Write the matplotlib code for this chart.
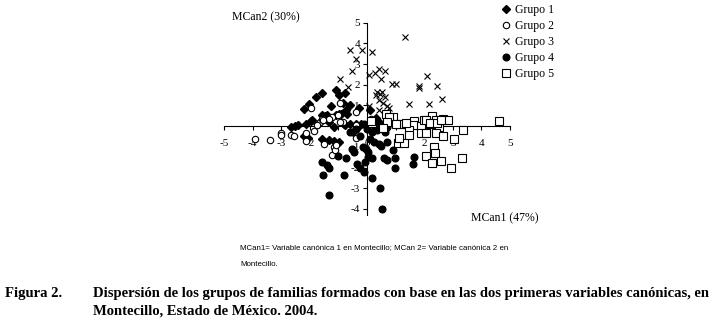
import matplotlib
matplotlib.use("Agg")
import matplotlib.pyplot as plt

# ---------------- data ----------------
g1_x = [-2.19, -2.02, -1.78, -1.58, -1.08, -0.97, -0.78, -1.25, -0.85, -0.75, -0.70, -0.28,
        -1.93, -1.58, -1.48, -1.10, -2.66, -2.52, -2.14, -2.19, -2.07, -1.34, -1.17, -0.99,
        -1.58, -1.34, -1.17, -0.99, -0.81, -2.40, -1.97, -0.90, -0.76, -0.58, -0.40, -0.22,
        0.10, 0.31, 0.07, 0.45, -1.70, -0.50, -0.30, 0.20, -1.40, -0.60]
g1_y = [0.85, 1.05, 1.42, 1.58, 1.77, 1.50, 1.61, 0.97, 1.10, 0.77, 0.58, 0.88,
        0.32, 0.53, 0.48, 0.53, -0.03, 0.01, 0.13, -0.48, -0.55, 0.21, -0.03, 0.58,
        -0.64, -0.68, -0.71, -0.76, 0.13, 0.05, 0.25, 0.61, 0.05, 0.13, 0.13, 0.13,
        0.77, 0.42, 0.13, 0.16, 0.10, -0.30, -0.05, 0.05, 0.55, 1.00]

g2_x = [-3.91, -3.38, -2.99, -2.99, -2.66, -2.14, -2.14, -1.85, -1.52, -1.23, -1.17, -1.12,
        -1.64, -1.58, -1.23, -0.85, -0.40, -0.40, -0.40, -1.95, -1.34, -1.55, -1.00, -0.93,
        -1.75, -0.93, -2.55, -1.10, 0.13]
g2_y = [-0.64, -0.68, -0.32, -0.43, -0.43, -0.32, -0.71, -0.23, -0.84, -1.40, -1.00, -1.13,
        0.20, 0.37, 0.45, 0.20, 0.05, -0.55, 0.70, 0.90, 0.37, 0.30, 0.53, 1.10,
        0.05, 0.20, -0.45, -0.92, 0.37]

g3_x = [1.33, -0.58, -0.17, 0.17, -0.40, -0.52, -0.93, -0.66, 0.07, 0.27, 0.42, 0.64,
        0.48, 0.87, 1.01, 2.11, 1.81, 1.81, 2.46, 2.63, 1.46, 2.17, 0.35, 0.53,
        0.64, 0.42, 0.57, 0.71, 0.78, 0.07, 0.42, 0.30, 0.45]
g3_y = [4.30, 3.70, 3.66, 3.60, 3.27, 2.67, 2.27, 1.87, 2.46, 2.55, 2.74, 2.67,
        2.26, 2.06, 2.06, 2.42, 1.93, 1.85, 1.93, 1.30, 1.06, 1.05, 1.64, 1.64,
        1.40, 1.26, 1.11, 0.97, 0.87, 0.97, 0.77, 1.50, 1.55]

g4_x = [-1.58, -1.40, -1.32, -1.54, -1.01, -0.73, -0.81, -1.32, -0.52, -0.46, -0.34, -0.26,
        -0.07, -0.10, 0.04, -0.14, -0.02, -0.60, -0.37, -0.25, 0.19, 0.60, 0.70, 0.99,
        0.98, 1.64, 1.60, 0.19, 0.45, 0.54, 0.25, 0.42, 0.48, 0.70, 0.90, 0.05,
        0.16, 0.34, 0.45, 0.63, 0.69, 0.00, 0.10, -0.10, 0.20, 0.45]
g4_y = [-1.75, -1.88, -2.01, -2.37, -1.43, -1.56, -2.37, -3.30, -1.08, -1.24, -1.85, -2.04,
        -1.75, -2.20, -1.50, -1.00, -1.08, -0.28, -0.12, -0.45, -1.56, -1.53, -1.64, -1.56,
        -2.01, -1.48, -1.85, -2.48, -2.98, -3.98, -0.76, -0.88, -0.95, -0.76, -1.16, -1.24,
        -0.28, -0.20, -0.03, -0.28, -0.03, -0.12, -0.60, 0.10, 0.15, 0.00]

g5_x = [0.17, 0.66, 0.90, 1.04, 1.23, 1.37, 1.66, 1.66, 1.48, 1.48, 1.90, 1.99,
        2.19, 2.28, 2.40, 2.52, 2.66, 2.84, 2.40, 2.64, 3.04, 3.37, 4.60, 1.90,
        2.05, 1.07, 1.31, 1.13, 2.33, 2.37, 2.07, 2.28, 2.58, 2.92, 3.31, 0.78,
        0.13, 1.00, 1.35, 2.05, 2.20, 2.45, 2.60, 0.70, 0.55]
g5_y = [0.16, 0.58, 0.45, 0.10, 0.10, 0.13, 0.26, 0.05, -0.19, -0.43, 0.00, 0.32,
        0.13, 0.48, 0.29, -0.03, 0.37, 0.29, -0.35, -0.48, -0.60, -0.16, 0.26, -0.35,
        -0.32, -0.81, -0.81, -0.55, -1.00, -1.29, -1.45, -1.77, -1.69, -2.00, -1.56, 0.45,
        0.25, 0.13, 0.16, 0.32, 0.16, 0.16, 0.32, 0.20, -0.10]

group_labels = ["Grupo 1", "Grupo 2", "Grupo 3", "Grupo 4", "Grupo 5"]
x_ticks = [-5, -4, -3, -2, -1, 0, 1, 2, 3, 4, 5]
y_ticks = [-4, -3, -2, -1, 0, 1, 2, 3, 4, 5]

# ---------------- figure ----------------
W, H = 715, 323
fig = plt.figure(figsize=(W / 100, H / 100), dpi=100)
fig.patch.set_facecolor("white")

serif = ["Liberation Serif", "DejaVu Serif"]

ax = fig.add_axes([224 / W, 1 - 215.2 / H, 286 / W, (215.2 - 22.7) / H])
ax.set_xlim(-5, 5)
ax.set_ylim(-4.3, 5)
ax.set_facecolor("none")

for s in ["top", "right"]:
    ax.spines[s].set_visible(False)
ax.spines["left"].set_position(("data", 0))
ax.spines["bottom"].set_position(("data", 0))
for s in ["left", "bottom"]:
    ax.spines[s].set_linewidth(0.8)
    ax.spines[s].set_color("black")

ax.set_xticks(x_ticks)
ax.set_yticks(y_ticks)
ax.set_xticklabels([str(t) for t in x_ticks], family=serif, fontsize=8)
ax.set_yticklabels([str(t) for t in y_ticks], family=serif, fontsize=8)
ax.tick_params(axis="x", direction="out", length=3, width=0.8, pad=6)
ax.tick_params(axis="y", direction="out", length=3, width=0.8, pad=2)

kw = dict(linestyle="none", clip_on=False, zorder=3)
ax.plot(g1_x, g1_y, marker="D", markersize=4.2, color="black", label=group_labels[0], **kw)
ax.plot(g2_x, g2_y, marker="o", markersize=4.6, markerfacecolor="white",
        markeredgecolor="black", markeredgewidth=0.8, label=group_labels[1], **kw)
ax.plot(g3_x, g3_y, marker="x", markersize=5.0, color="black", markeredgewidth=0.8,
        label=group_labels[2], **kw)
ax.plot(g4_x, g4_y, marker="o", markersize=4.8, color="black", label=group_labels[3], **kw)
ax.plot(g5_x, g5_y, marker="s", markersize=5.2, markerfacecolor="white",
        markeredgecolor="black", markeredgewidth=0.8, label=group_labels[4], **kw)

leg = ax.legend(loc="upper left", bbox_to_anchor=(500 / W, 1 - 2 / H),
                bbox_transform=fig.transFigure, frameon=False,
                prop={"family": serif, "size": 8.5}, handlelength=0.6,
                handletextpad=0.5, labelspacing=0.33, borderpad=0.2,
                borderaxespad=0)

fig.text(232 / W, 1 - 17 / H, "MCan2 (30%)", family=serif, fontsize=8.5,
         ha="left", va="center")
fig.text(471 / W, 1 - 218 / H, "MCan1 (47%)", family=serif, fontsize=8.5,
         ha="left", va="center")

narrow = ["Liberation Sans Narrow", "Liberation Sans", "DejaVu Sans"]
fig.text(240 / W, 1 - 248 / H,
         "MCan1= Variable canónica 1 en Montecillo; MCan 2= Variable canónica 2 en",
         family=narrow, fontsize=5.7, ha="left", va="center")
fig.text(240 / W, 1 - 264 / H, "Montecillo.", family=narrow, fontsize=5.7,
         ha="left", va="center")

fig.text(5 / W, 1 - 293 / H, "Figura 2.", family=serif, fontsize=10.5,
         fontweight="bold", ha="left", va="center")
fig.text(93 / W, 1 - 293 / H,
         "Dispersión de los grupos de familias formados con base en las dos primeras variables canónicas, en",
         family=serif, fontsize=10.5, fontweight="bold", ha="left", va="center")
fig.text(93 / W, 1 - 311 / H, "Montecillo, Estado de México. 2004.", family=serif,
         fontsize=10.5, fontweight="bold", ha="left", va="center")

fig.savefig("out.png", dpi=100, facecolor="white")
